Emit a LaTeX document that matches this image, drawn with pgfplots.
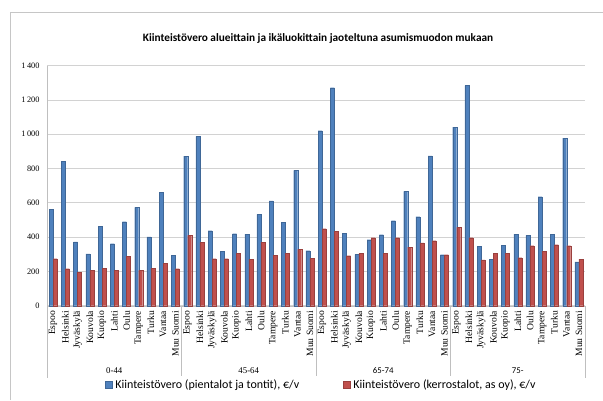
\documentclass[border=0pt]{standalone}
\usepackage{pgfplots}
\pgfplotsset{compat=1.18}
\usepackage{fontspec}
\setmainfont{Carlito}
\newfontfamily\seriffont{Liberation Serif}
\definecolor{xblue}{HTML}{4F81BD}
\definecolor{xred}{HTML}{C0504D}
\begin{document}
\begin{tikzpicture}
\useasboundingbox (0pt,0pt) rectangle (603pt,400pt);
\draw[gray!45] (10pt,0pt) -- (10pt,387.5pt) -- (603pt,387.5pt);
\node[font=\bfseries\fontsize{11.3}{14}\selectfont] at (318pt,362pt) {Kiinteistövero alueittain ja ikäluokittain jaoteltuna asumismuodon mukaan};
\begin{axis}[
  at={(47pt,94.3pt)}, anchor=south west,
  scale only axis, width=538pt, height=240pt,
  ybar=0pt, bar width=4pt,
  xmin=-0.5, xmax=43.5, ymin=0, ymax=1400,
  ytick={0,200,...,1400},
  xtick={0,...,43},
  xticklabels={Espoo,Helsinki,Jyväskylä,Kouvola,Kuopio,Lahti,Oulu,Tampere,Turku,Vantaa,Muu Suomi,
               Espoo,Helsinki,Jyväskylä,Kouvola,Kuopio,Lahti,Oulu,Tampere,Turku,Vantaa,Muu Suomi,
               Espoo,Helsinki,Jyväskylä,Kouvola,Kuopio,Lahti,Oulu,Tampere,Turku,Vantaa,Muu Suomi,
               Espoo,Helsinki,Jyväskylä,Kouvola,Kuopio,Lahti,Oulu,Tampere,Turku,Vantaa,Muu Suomi},
  xticklabel style={rotate=90, anchor=east, font=\seriffont\fontsize{9.6}{10}\selectfont, inner sep=1pt, xshift=-4pt},
  yticklabel style={font=\seriffont\fontsize{8.3}{9}\selectfont, xshift=-4pt},
  /pgf/number format/assume math mode=true,
  /pgf/number format/1000 sep={\,},
  major tick length=0pt,
  ymajorgrids, grid style={gray!35, line width=0.8pt},
  axis x line*=bottom, axis y line*=left,
  axis line style={gray!50, -},
  clip=false,
  legend style={at={(0.51,-0.33)}, anchor=center, draw=none, legend columns=2,
    font=\fontsize{12}{13}\selectfont, column sep=1pt,
    /tikz/every even column/.append style={column sep=42pt}},
  legend image code/.code={\fill[#1] (0pt,-3.5pt) rectangle (7pt,3.5pt);},
]
\addplot[fill=xblue, draw=xblue!80!black, line width=0.2pt] coordinates {
(0,564)(1,844)(2,373)(3,302)(4,463)(5,362)(6,490)(7,574)(8,401)(9,661)(10,294)
(11,872)(12,988)(13,438)(14,317)(15,420)(16,418)(17,533)(18,611)(19,488)(20,790)(21,321)
(22,1021)(23,1272)(24,422)(25,300)(26,385)(27,414)(28,496)(29,667)(30,519)(31,874)(32,298)
(33,1041)(34,1284)(35,348)(36,270)(37,354)(38,418)(39,410)(40,636)(41,416)(42,977)(43,255)};
\addlegendentry{Kiinteistövero (pientalot ja tontit), €/v}
\addplot[fill=xred, draw=xred!80!black, line width=0.2pt] coordinates {
(0,274)(1,216)(2,195)(3,208)(4,218)(5,206)(6,288)(7,206)(8,218)(9,247)(10,216)
(11,410)(12,370)(13,274)(14,274)(15,305)(16,270)(17,370)(18,294)(19,305)(20,329)(21,276)
(22,449)(23,434)(24,292)(25,305)(26,397)(27,305)(28,397)(29,342)(30,366)(31,379)(32,298)
(33,457)(34,397)(35,268)(36,307)(37,307)(38,280)(39,350)(40,317)(41,356)(42,350)(43,272)};
\addlegendentry{Kiinteistövero (kerrostalot, as oy), €/v}
\draw[gray!50] (axis cs:-0.5,0) -- ([yshift=-72pt]axis cs:-0.5,0);
\draw[gray!50] (axis cs:10.5,0) -- ([yshift=-72pt]axis cs:10.5,0);
\draw[gray!50] (axis cs:21.5,0) -- ([yshift=-72pt]axis cs:21.5,0);
\draw[gray!50] (axis cs:32.5,0) -- ([yshift=-72pt]axis cs:32.5,0);
\draw[gray!50] (axis cs:43.5,0) -- ([yshift=-72pt]axis cs:43.5,0);
\node[font=\seriffont\fontsize{8.8}{10}\selectfont] at ([yshift=-65pt]axis cs:5,0) {0-44};
\node[font=\seriffont\fontsize{8.8}{10}\selectfont] at ([yshift=-65pt]axis cs:16,0) {45-64};
\node[font=\fontsize{8.8}{10}\selectfont] at ([yshift=-65pt]axis cs:27,0) {65-74};
\node[font=\fontsize{8.8}{10}\selectfont] at ([yshift=-65pt]axis cs:38,0) {75-};
\end{axis}
\end{tikzpicture}
\end{document}
